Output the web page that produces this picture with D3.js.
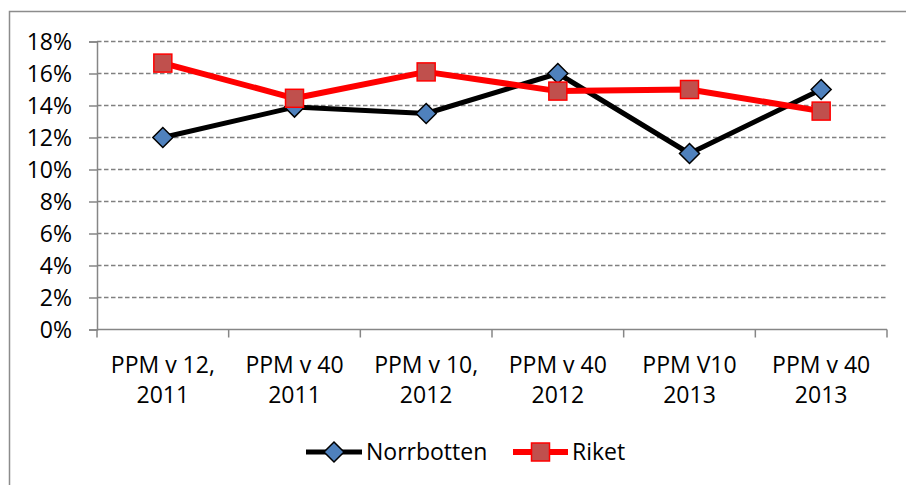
<!DOCTYPE html>
<html>
<head>
<meta charset="utf-8">
<script src="https://cdn.jsdelivr.net/npm/d3@7"></script>
<style>
  body { margin: 0; background: #fff; }
  svg { display: block; font-family: "Open Sans", sans-serif; }
</style>
</head>
<body>
<div class="canvas"></div>
<script>
const categories = [
  ["PPM v 12,", "2011"],
  ["PPM v 40", "2011"],
  ["PPM v 10,", "2012"],
  ["PPM v 40", "2012"],
  ["PPM V10", "2013"],
  ["PPM v 40", "2013"]
]
const norrbotten = [0.12, 0.139, 0.135, 0.16, 0.11, 0.15]
const riket = [0.1665, 0.1445, 0.161, 0.149, 0.15, 0.1365]
const yTicks = [0, 0.02, 0.04, 0.06, 0.08, 0.10, 0.12, 0.14, 0.16, 0.18]
const seriesNames = ["Norrbotten", "Riket"]

const width = 906, height = 485
const margin = {top: 41.5, right: 19, bottom: 155.5, left: 97}
const graphWidth = width - margin.left - margin.right
const graphHeight = height - margin.top - margin.bottom

const svg = d3.select(".canvas").append("svg").attr("width", width).attr("height", height)

// outer chart border
svg.append("rect")
  .attr("x", 9.5).attr("y", 11.5)
  .attr("width", 920).attr("height", 500)
  .attr("fill", "none").attr("stroke", "#8c8c8c").attr("stroke-width", 1.5)

const graph = svg.append("g").attr("transform", `translate(${margin.left}, ${margin.top})`)

const x = d3.scaleBand().domain(d3.range(categories.length)).range([0, graphWidth])
const y = d3.scaleLinear().domain([0, 0.18]).range([graphHeight, 0])
const cx = i => x(i) + x.bandwidth() / 2

// gridlines
graph.append("g").selectAll("line")
  .data(yTicks.filter(d => d > 0))
  .enter().append("line")
  .attr("x1", 0).attr("x2", graphWidth)
  .attr("y1", d => y(d)).attr("y2", d => y(d))
  .attr("stroke", "#808080").attr("stroke-width", 1.3)
  .attr("stroke-dasharray", "4.5,2.5")

// y axis
const yAxis = d3.axisLeft(y).tickValues(yTicks).tickSize(8).tickPadding(17)
  .tickFormat(d => Math.round(d * 100) + "%")
const yAxisGroup = graph.append("g").call(yAxis)
yAxisGroup.select(".domain").attr("stroke", "#868686").attr("stroke-width", 1.5)
yAxisGroup.selectAll(".tick line").attr("stroke", "#868686").attr("stroke-width", 1.5)
yAxisGroup.selectAll("text").attr("font-size", 23).attr("fill", "#000")
  .attr("font-family", "Open Sans").attr("dy", "0.34em")

// x axis
const xAxisGroup = graph.append("g").attr("transform", `translate(0, ${graphHeight})`)
xAxisGroup.append("line").attr("x1", 0).attr("x2", graphWidth)
  .attr("stroke", "#868686").attr("stroke-width", 1.5)
xAxisGroup.selectAll(".xtick")
  .data(d3.range(categories.length + 1))
  .enter().append("line")
  .attr("x1", i => i < categories.length ? x(i) : graphWidth)
  .attr("x2", i => i < categories.length ? x(i) : graphWidth)
  .attr("y1", 0).attr("y2", 8)
  .attr("stroke", "#868686").attr("stroke-width", 1.5)
const labels = xAxisGroup.selectAll(".xlabel")
  .data(categories)
  .enter().append("text")
  .attr("text-anchor", "middle")
  .attr("font-size", 23)
  .attr("fill", "#000")
labels.append("tspan").attr("x", (d, i) => cx(i)).attr("y", 43).text(d => d[0])
labels.append("tspan").attr("x", (d, i) => cx(i)).attr("y", 73).text(d => d[1])

// lines
const line = d3.line().x((d, i) => cx(i)).y(d => y(d))

graph.append("path").datum(norrbotten)
  .attr("d", line).attr("fill", "none")
  .attr("stroke", "#000").attr("stroke-width", 5).attr("stroke-linejoin", "round")
graph.append("path").datum(riket)
  .attr("d", line).attr("fill", "none")
  .attr("stroke", "#ff0000").attr("stroke-width", 6).attr("stroke-linejoin", "round")

const diamond = (sel, px, py) => sel.append("path")
  .attr("d", `M${px},${py - 10}L${px + 10},${py}L${px},${py + 10}L${px - 10},${py}Z`)
  .attr("fill", "#4f81bd").attr("stroke", "#000").attr("stroke-width", 1.5)
const square = (sel, px, py) => sel.append("rect")
  .attr("x", px - 9).attr("y", py - 9).attr("width", 18).attr("height", 18)
  .attr("fill", "#c0504d").attr("stroke", "#ff0000").attr("stroke-width", 1.5)

norrbotten.forEach((d, i) => diamond(graph, cx(i), y(d)))
riket.forEach((d, i) => square(graph, cx(i), y(d)))

// legend
const legend = svg.append("g")
legend.append("line").attr("x1", 306).attr("x2", 362).attr("y1", 452).attr("y2", 452)
  .attr("stroke", "#000").attr("stroke-width", 5)
diamond(legend, 334, 452)
legend.append("text").attr("x", 366).attr("y", 460).attr("font-size", 23).text(seriesNames[0])
legend.append("line").attr("x1", 513).attr("x2", 568).attr("y1", 452).attr("y2", 452)
  .attr("stroke", "#ff0000").attr("stroke-width", 6)
square(legend, 540.5, 452)
legend.append("text").attr("x", 572).attr("y", 460).attr("font-size", 23).text(seriesNames[1])
</script>
</body>
</html>
